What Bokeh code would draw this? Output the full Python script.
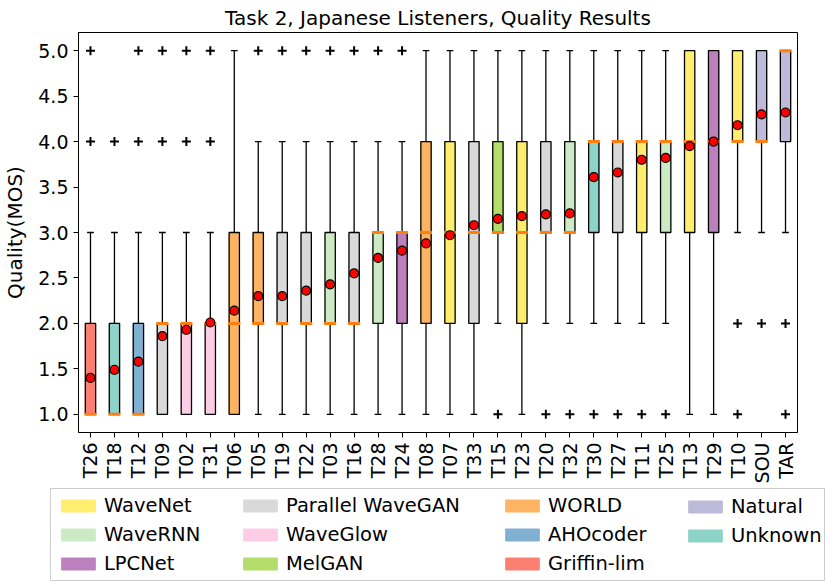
import math
from bokeh.plotting import figure
from bokeh.layouts import column
from bokeh.models import (ColumnDataSource, FactorRange, Legend, LegendItem,
                          FixedTicker, NumeralTickFormatter, Range1d)
from bokeh.transform import dodge
from bokeh.embed import file_html
from bokeh.resources import INLINE

# ---------------- data ----------------
systems = ["T26", "T18", "T12", "T09", "T02", "T31", "T06", "T05", "T19", "T22",
           "T03", "T16", "T28", "T24", "T08", "T07", "T33", "T15", "T23", "T20",
           "T32", "T30", "T27", "T11", "T25", "T13", "T29", "T10", "SOU", "TAR"]
types = ["Griffin-lim", "Unknown", "AHOcoder", "Parallel WaveGAN", "WaveGlow", "WaveGlow",
         "WORLD", "WORLD", "Parallel WaveGAN", "Parallel WaveGAN", "WaveRNN",
         "Parallel WaveGAN", "WaveRNN", "LPCNet", "WORLD", "WaveNet", "Parallel WaveGAN",
         "MelGAN", "WaveNet", "Parallel WaveGAN", "WaveRNN", "Unknown", "Parallel WaveGAN",
         "WaveNet", "WaveRNN", "WaveNet", "LPCNet", "WaveNet", "Natural", "Natural"]
q1 =        [1, 1, 1, 1, 1, 1, 1, 2, 2, 2, 2, 2, 2, 2, 2, 2, 2, 3, 2, 3, 3, 3, 3, 3, 3, 3, 3, 4, 4, 4]
median =    [1, 1, 1, 2, 2, 2, 2, 2, 2, 2, 2, 2, 3, 3, 3, 3, 3, 3, 3, 3, 3, 4, 4, 4, 4, 4, 4, 4, 4, 5]
q3 =        [2, 2, 2, 2, 2, 2, 3, 3, 3, 3, 3, 3, 3, 3, 4, 4, 4, 4, 4, 4, 4, 4, 4, 4, 4, 5, 5, 5, 5, 5]
whisk_lo =  [1, 1, 1, 1, 1, 1, 1, 1, 1, 1, 1, 1, 1, 1, 1, 1, 1, 2, 1, 2, 2, 2, 2, 2, 2, 1, 1, 3, 3, 3]
whisk_hi =  [3, 3, 3, 3, 3, 3, 5, 4, 4, 4, 4, 4, 4, 4, 5, 5, 5, 5, 5, 5, 5, 5, 5, 5, 5, 5, 5, 5, 5, 5]
means =     [1.40, 1.49, 1.58, 1.86, 1.93, 2.01, 2.14, 2.30, 2.30, 2.36, 2.43, 2.55, 2.72, 2.80,
             2.88, 2.97, 3.08, 3.15, 3.18, 3.20, 3.21, 3.61, 3.66, 3.80, 3.82, 3.95, 4.00,
             4.18, 4.30, 4.32]
outliers = [[4, 5], [4], [4, 5], [4, 5], [4, 5], [4, 5], [], [5], [5], [5],
            [5], [5], [5], [5], [], [], [], [1], [], [1],
            [1], [1], [1], [1], [1], [], [], [2, 1], [2], [2, 1]]

legend_columns = [["WaveNet", "WaveRNN", "LPCNet"],
                  ["Parallel WaveGAN", "WaveGlow", "MelGAN"],
                  ["WORLD", "AHOcoder", "Griffin-lim"],
                  ["Natural", "Unknown"]]
palette = {"WaveNet": "#FFED6F", "WaveRNN": "#CCEBC5", "LPCNet": "#BC80BD",
           "Parallel WaveGAN": "#D9D9D9", "WaveGlow": "#FCCDE5", "MelGAN": "#B3DE69",
           "WORLD": "#FDB462", "AHOcoder": "#80B1D3", "Griffin-lim": "#FB8072",
           "Natural": "#BEBADA", "Unknown": "#8DD3C7"}

FONT = "DejaVu Sans"

src = ColumnDataSource(dict(sys=systems, q1=q1, med=median, q3=q3, lo=whisk_lo,
                            hi=whisk_hi, mean=means))
ox, oy = [], []
for s, vals in zip(systems, outliers):
    for v in vals:
        ox.append(s)
        oy.append(v)
osrc = ColumnDataSource(dict(x=ox, y=oy))


def type_source(t):
    idx = [i for i, tt in enumerate(types) if tt == t]
    return ColumnDataSource(dict(sys=[systems[i] for i in idx], q1=[q1[i] for i in idx],
                                 q3=[q3[i] for i in idx]))


# ---------------- main plot ----------------
p = figure(frame_width=719, frame_height=400,
           x_range=FactorRange(factors=systems, range_padding=0),
           y_range=Range1d(0.8, 5.2), output_backend="svg", toolbar_location=None,
           min_border_left=70, min_border_right=21, min_border_top=32,
           min_border_bottom=40)
p.frame_align = False

p.title.text = "Task 2, Japanese Listeners, Quality Results"
p.title.align = "center"
p.title.text_font = FONT
p.title.text_font_size = "20px"
p.title.text_font_style = "normal"
p.title.text_color = "black"
p.title.standoff = 6

p.xgrid.visible = False
p.ygrid.visible = False
p.outline_line_color = "black"
p.outline_line_width = 1
p.outline_line_alpha = 1

# whiskers
p.segment(x0="sys", y0="lo", x1="sys", y1="q1", source=src, line_color="black", line_width=1.3)
p.segment(x0="sys", y0="q3", x1="sys", y1="hi", source=src, line_color="black", line_width=1.3)
# caps
p.segment(x0=dodge("sys", -0.14, range=p.x_range), y0="lo",
          x1=dodge("sys", 0.14, range=p.x_range), y1="lo", source=src,
          line_color="black", line_width=1.3)
p.segment(x0=dodge("sys", -0.14, range=p.x_range), y0="hi",
          x1=dodge("sys", 0.14, range=p.x_range), y1="hi", source=src,
          line_color="black", line_width=1.3)
# box fills per system type
for col in legend_columns:
    for t in col:
        p.vbar(x="sys", bottom="q1", top="q3", width=0.43, source=type_source(t),
               fill_color=palette[t], line_color=palette[t], line_width=1)
# box outlines
p.vbar(x="sys", bottom="q1", top="q3", width=0.43, source=src, fill_alpha=0,
       line_color="black", line_width=1.3)
# medians
p.segment(x0=dodge("sys", -0.25, range=p.x_range), y0="med",
          x1=dodge("sys", 0.25, range=p.x_range), y1="med", source=src,
          line_color="#FF7F0E", line_width=3)
# outliers
p.scatter(x="x", y="y", source=osrc, marker="cross", size=9, line_color="black",
          line_width=2)
# means
p.scatter(x="sys", y="mean", source=src, marker="circle", size=9, fill_color="red",
          line_color="black", line_width=1.2)

# axes
p.yaxis.ticker = FixedTicker(ticks=[1.0, 1.5, 2.0, 2.5, 3.0, 3.5, 4.0, 4.5, 5.0])
p.yaxis.formatter = NumeralTickFormatter(format="0.0")
p.yaxis.axis_label = "Quality(MOS)"
p.yaxis.axis_label_text_font = FONT
p.yaxis.axis_label_text_font_size = "20px"
p.yaxis.axis_label_text_font_style = "normal"
p.yaxis.axis_label_text_color = "black"
p.yaxis.axis_label_standoff = 8
for ax in (p.xaxis, p.yaxis):
    ax.major_label_text_font = FONT
    ax.major_label_text_color = "black"
    ax.major_label_text_font_size = "19px"
    ax.major_tick_in = 0
    ax.major_tick_out = 5
    ax.minor_tick_in = 0
    ax.minor_tick_out = 0
    ax.axis_line_color = "black"
    ax.major_tick_line_color = "black"
    ax.major_label_standoff = 5
p.xaxis.major_label_orientation = math.pi / 2

# ---------------- legend panel ----------------
lg = figure(frame_width=775, frame_height=93, x_range=FactorRange(factors=systems),
            y_range=Range1d(0.8, 5.2), output_backend="svg", toolbar_location=None,
            x_axis_location=None, y_axis_location=None,
            min_border_left=50, min_border_right=0, min_border_top=2,
            min_border_bottom=0)
lg.frame_align = False
lg.xgrid.visible = False
lg.ygrid.visible = False
lg.outline_line_color = "#CCCCCC"
lg.outline_line_width = 1

col_x = [7, 189, 451, 634]
for cx, col in zip(col_x, legend_columns):
    items = []
    for t in col:
        r = lg.vbar(x="sys", bottom="q1", top="q3", width=0.43, source=type_source(t),
                    fill_color=palette[t], line_color=palette[t], line_width=1)
        r.visible = False
        items.append(LegendItem(label=t, renderers=[r]))
    # anchor each column's top row at the same height
    bottom = 6 + (3 - len(col)) * 28
    leg = Legend(items=items, location=(cx, bottom), orientation="vertical",
                 label_text_font=FONT, label_text_font_size="19.5px",
                 label_text_color="black", glyph_width=42, glyph_height=15,
                 label_standoff=5, spacing=6, padding=0, margin=0,
                 border_line_alpha=0, background_fill_alpha=0)
    lg.add_layout(leg, "center")

layout = column(p, lg, spacing=0)
open("out.html", "w").write(file_html(layout, INLINE))
